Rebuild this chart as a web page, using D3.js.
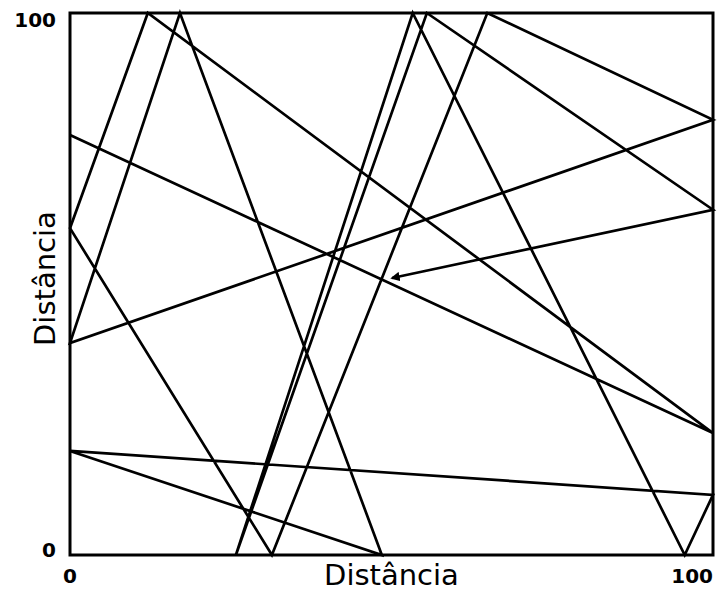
<!DOCTYPE html>
<html>
<head>
<meta charset="utf-8">
<script src="https://cdn.jsdelivr.net/npm/d3@7"></script>
<style>
  body { margin: 0; background: #fff; }
  text { font-family: "DejaVu Sans", sans-serif; }
</style>
</head>
<body>
<div id="chart"></div>
<script>
// path of the bouncing walk (distance units, 0-100 box)
const walkX = [0, 100, 12.1, 0, 31.4, 64.9, 100, 0, 17.1, 48.5, 0, 100, 95.6, 53.3, 25.8, 55.5, 100, 50.1];
const walkY = [77.5, 22.5, 100, 60.3, 0, 100, 80.3, 39.1, 100, 0, 19.2, 11.1, 0, 100, 0, 100, 63.7, 51.1];
const tickValues = [0, 100];
const axisTitle = "Distância";

const W = 717, H = 592;
const margin = { top: 13, right: 4, bottom: 37, left: 70 };
const width = W - margin.left - margin.right;
const height = H - margin.top - margin.bottom;

const points = walkX.map((x, i) => ({ x: x, y: walkY[i] }));

const xScale = d3.scaleLinear().domain([0, 100]).range([0, width]);
const yScale = d3.scaleLinear().domain([0, 100]).range([height, 0]);

const svg = d3.select("#chart")
  .append("svg")
  .attr("width", W)
  .attr("height", H);

svg.append("defs").append("marker")
  .attr("id", "arrow")
  .attr("viewBox", "0 0 10 10")
  .attr("refX", 8)
  .attr("refY", 5)
  .attr("markerWidth", 3.5)
  .attr("markerHeight", 3.5)
  .attr("orient", "auto")
  .append("path")
  .attr("d", "M0,0 L10,5 L0,10 z")
  .attr("fill", "#000");

const g = svg.append("g")
  .attr("transform", "translate(" + margin.left + "," + margin.top + ")");

// frame
g.append("rect")
  .attr("x", 0)
  .attr("y", 0)
  .attr("width", width)
  .attr("height", height)
  .attr("fill", "none")
  .attr("stroke", "#000")
  .attr("stroke-width", 3);

const line = d3.line()
  .x(d => xScale(d.x))
  .y(d => yScale(d.y));

g.append("path")
  .datum(points)
  .attr("d", line)
  .attr("fill", "none")
  .attr("stroke", "#000")
  .attr("stroke-width", 2.7)
  .attr("stroke-linejoin", "miter")
  .attr("marker-end", "url(#arrow)");

// tick labels
g.selectAll(".ytick")
  .data(tickValues)
  .enter()
  .append("text")
  .attr("class", "ytick")
  .attr("x", -14)
  .attr("y", d => yScale(d))
  .attr("dy", d => d === 0 ? "0.1em" : "0.72em")
  .attr("text-anchor", "end")
  .attr("font-size", 20)
  .attr("font-weight", "bold")
  .text(d => d);

g.selectAll(".xtick")
  .data(tickValues)
  .enter()
  .append("text")
  .attr("class", "xtick")
  .attr("x", d => xScale(d))
  .attr("y", height + 28)
  .attr("text-anchor", d => d === 0 ? "middle" : "end")
  .attr("font-size", 20)
  .attr("font-weight", "bold")
  .text(d => d);

// axis titles
g.append("text")
  .attr("x", xScale(50))
  .attr("y", height + 30)
  .attr("text-anchor", "middle")
  .attr("font-size", 29)
  .text(axisTitle);

g.append("text")
  .attr("transform", "translate(" + (-15) + "," + yScale(51) + ") rotate(-90)")
  .attr("text-anchor", "middle")
  .attr("font-size", 29)
  .text(axisTitle);
</script>
</body>
</html>
